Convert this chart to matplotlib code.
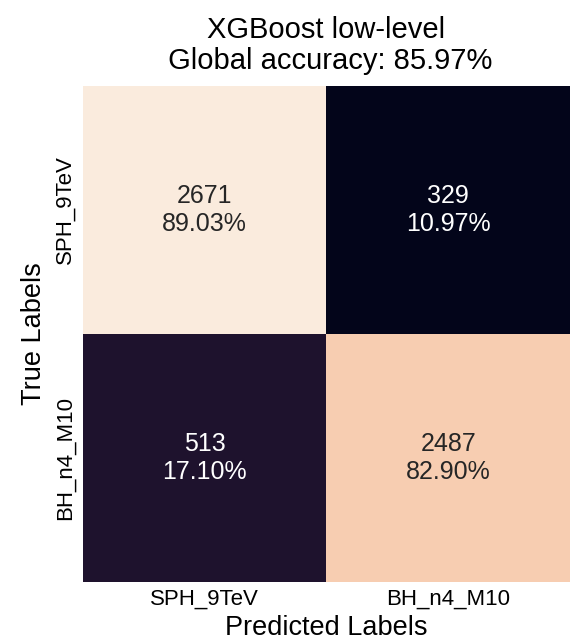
import numpy as np
import matplotlib
matplotlib.use("Agg")
import matplotlib.pyplot as plt
import seaborn as sns

class_names = ["SPH_9TeV", "BH_n4_M10"]
counts = np.array([[2671, 329],
                   [513, 2487]])
percents = np.array([[89.03, 10.97],
                     [17.10, 82.90]])
accuracy = 85.97

plt.rcParams['font.family'] = ['Liberation Sans', 'DejaVu Sans']

annot = np.array([[f"{counts[i, j]}\n{percents[i, j]:.2f}%" for j in range(2)]
                  for i in range(2)])

fig = plt.figure(figsize=(5.7, 6.44), dpi=100)
ax = fig.add_axes([0.1456, 0.0963, 0.8544, 0.7702])
sns.heatmap(counts, annot=annot, fmt="", cmap="rocket", cbar=False,
            xticklabels=class_names, yticklabels=class_names,
            annot_kws={"fontsize": 18}, ax=ax)
ax.set_title(f"XGBoost low-level\n Global accuracy: {accuracy:.2f}%",
             fontsize=21, pad=12, linespacing=1.15)
ax.set_xlabel("Predicted Labels", fontsize=19.5, labelpad=4)
ax.set_ylabel("True Labels", fontsize=19.5, labelpad=6)
ax.tick_params(labelsize=16, length=0, pad=5)

fig.savefig("out.png", dpi=100)
